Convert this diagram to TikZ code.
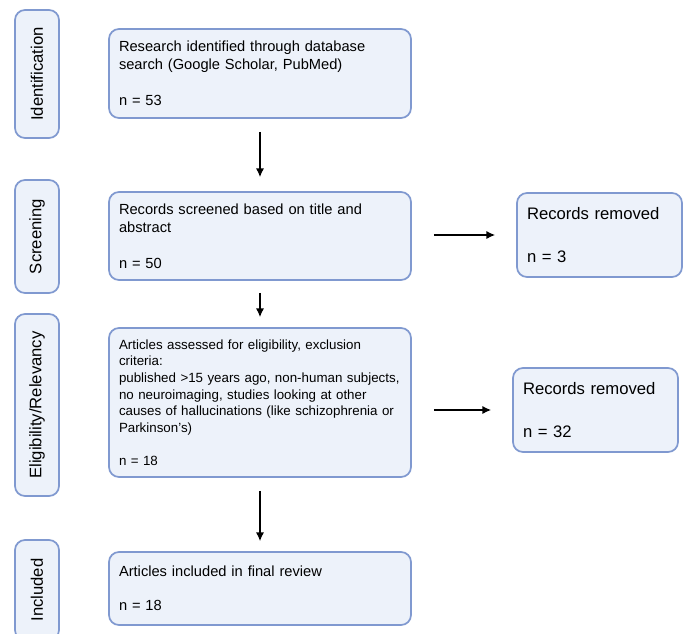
\documentclass[tikz,border=0pt]{standalone}
\usepackage{fontspec}
\setmainfont{Liberation Sans}
\usepackage{tikz}
\usetikzlibrary{arrows.meta,positioning,calc}
\definecolor{flowblue}{RGB}{128,153,208}
\definecolor{flowfill}{RGB}{237,242,250}

\begin{document}
\begin{tikzpicture}[
  x=0.75pt, y=-0.75pt,
  stage/.style={rectangle, rounded corners=7.5pt, draw=flowblue, line width=1.3pt, fill=flowfill, rotate=90, minimum height=33pt, inner sep=0pt, font=\fontsize{12.5}{15}\selectfont},
  box/.style={rectangle, rounded corners=7.5pt, draw=flowblue, line width=1.3pt, fill=flowfill, text width=211.5pt, inner xsep=7.5pt, minimum width=226.5pt, align=left, font=\fontsize{11}{13.5}\selectfont},
  removed/.style={box, text width=108.75pt, minimum width=123.75pt, minimum height=63pt, font=\fontsize{12.5}{15}\selectfont},
  arrow/.style={-{Latex[length=6.5pt,width=6pt]}, line width=0.9pt, black}
]
\useasboundingbox (0,0) rectangle (683,633);

% Stage labels on the left
\node[stage, minimum width=96pt] (ident) at (37,74) {Identification};
\node[stage, minimum width=84.75pt] (screen) at (37,236.5) {Screening};
\node[stage, minimum width=136.5pt] (elig) at (37,405) {Eligibility/Relevancy};
\node[stage, minimum width=75pt] (incl) at (37,590) {Included};

% Main flow
\node[box, minimum height=66.75pt] (found) at (260,73.5) {Research identified through database\\search (Google Scholar, PubMed)\\[13.5pt]n = 53};
\node[box, minimum height=66pt] (screened) at (260,236) {Records screened based on title and\\abstract\\[13.5pt]n = 50};
\node[box, minimum height=111.75pt, font=\fontsize{10}{12.4}\selectfont] (assessed) at (260,402.5) {Articles assessed for eligibility, exclusion\\criteria:\\published >15 years ago, non-human subjects,\\no neuroimaging, studies looking at other\\causes of hallucinations (like schizophrenia or\\Parkinson's)\\[12.4pt]n = 18};
\node[box, minimum height=54.75pt] (final) at (260,588.5) {Articles included in final review\\[12pt]n = 18};

% Removed records
\node[removed] (rmscreen) at (599.5,235) {Records removed\\[17pt]n = 3};
\node[removed] (rmelig) at (595.5,410) {Records removed\\[17pt]n = 32};

% Arrows
\draw[arrow, shorten <=9.75pt, shorten >=10.5pt] (found) -- (screened);
\draw[arrow, shorten <=9pt, shorten >=7.5pt] (screened) -- (assessed);
\draw[arrow, shorten <=9.75pt, shorten >=7.5pt] (assessed) -- (final);
\draw[arrow, shorten <=16.5pt, shorten >=15.75pt] (screened.east |- rmscreen.west) -- (rmscreen.west);
\draw[arrow, shorten <=16.5pt, shorten >=15.75pt] (assessed.east |- rmelig.west) -- (rmelig.west);

\end{tikzpicture}
\end{document}
